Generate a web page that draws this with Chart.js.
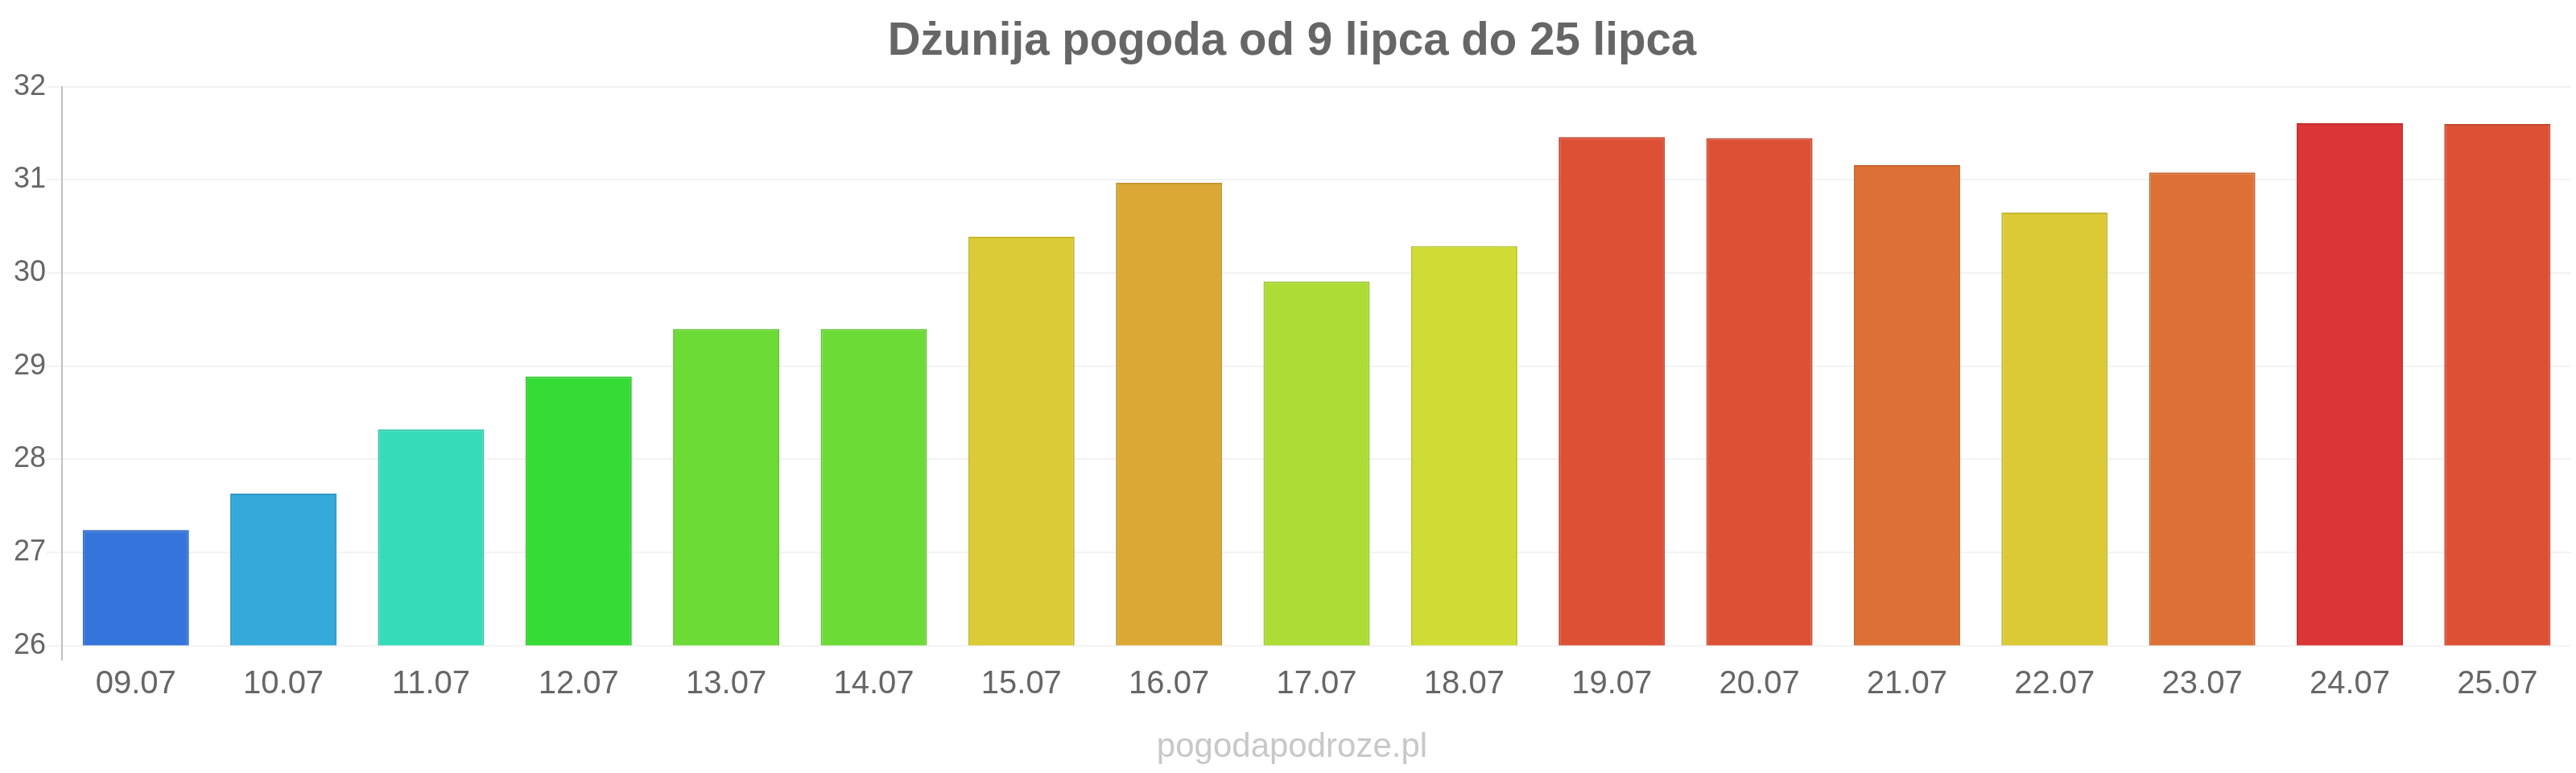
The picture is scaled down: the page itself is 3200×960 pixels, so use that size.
<!DOCTYPE html>
<html>
<head>
<meta charset="utf-8">
<title>Dżunija pogoda</title>
<script src="https://cdn.jsdelivr.net/npm/chart.js@4/dist/chart.umd.min.js"></script>
<style>
    body { margin: 0; background: #fff; }
    #wrap { width: 3200px; height: 960px; }
</style>
</head>
<body>
<div id="wrap"><canvas id="weatherChart" width="3200" height="960"></canvas></div>
<script>
const days = ['09.07', '10.07', '11.07', '12.07', '13.07', '14.07', '15.07', '16.07', '17.07',
    '18.07', '19.07', '20.07', '21.07', '22.07', '23.07', '24.07', '25.07'];
const temps = [27.24, 27.63, 28.32, 28.89, 29.40, 29.40, 30.39, 30.97, 29.91,
    30.29, 31.46, 31.45, 31.16, 30.65, 31.08, 31.61, 31.60];
const yTicks = [26, 27, 28, 29, 30, 31, 32];

// one colour per bar, warmer = hotter
const barColors = ['#3575db', '#36a9db', '#36dbb9', '#36db36', '#6cdb36', '#6cdb36', '#dbcb36',
    '#dba836', '#acdc35', '#cedc35', '#dc5135', '#dc5135', '#dd7035', '#dbca36', '#dd7035',
    '#db3535', '#dc5135'];

function darker(hex, f) {
    const n = parseInt(hex.slice(1), 16);
    const r = Math.round(((n >> 16) & 255) * f);
    const g = Math.round(((n >> 8) & 255) * f);
    const b = Math.round((n & 255) * f);
    return 'rgb(' + r + ',' + g + ',' + b + ')';
}

Chart.defaults.font.family = "'Liberation Sans', Arial, sans-serif";
Chart.defaults.color = '#666';

new Chart(document.getElementById('weatherChart'), {
    type: 'bar',
    data: {
        labels: days,
        datasets: [{
            data: temps,
            backgroundColor: barColors,
            borderColor: barColors.map(c => darker(c, 0.9)),
            borderWidth: 2
        }]
    },
    options: {
        responsive: false,
        animation: false,
        layout: { padding: { left: 16, right: 6, top: 0, bottom: 0 } },
        plugins: {
            legend: { display: false },
            tooltip: { enabled: false },
            title: {
                display: true,
                text: 'Dżunija pogoda od 9 lipca do 25 lipca',
                color: '#666',
                font: { size: 56.5, weight: 'bold' },
                padding: { top: 19, bottom: 21 }
            },
            subtitle: {
                display: true,
                position: 'bottom',
                text: 'pogodapodroze.pl',
                color: '#c8c8c8',
                font: { size: 42, weight: 'normal' },
                padding: { top: 25, bottom: 6 }
            }
        },
        scales: {
            x: {
                grid: {
                    display: true,
                    drawOnChartArea: false,
                    lineWidth: 2,
                    tickLength: 19,
                    color: ctx => ctx.index === 0 ? '#c0c0c0' : 'rgba(0,0,0,0)'
                },
                border: { display: false },
                ticks: {
                    color: '#666',
                    font: { size: 40 },
                    padding: 5,
                    maxRotation: 0,
                    autoSkip: false
                }
            },
            y: {
                min: yTicks[0],
                max: yTicks[yTicks.length - 1],
                afterBuildTicks: axis => {
                    axis.ticks = yTicks.map(v => ({ value: v }));
                },
                grid: {
                    color: '#f3f3f3',
                    lineWidth: 2,
                    tickLength: 19
                },
                border: { color: '#c0c0c0', width: 2 },
                ticks: {
                    color: '#666',
                    font: { size: 36 },
                    padding: 1
                }
            }
        }
    }
});
</script>
</body>
</html>
